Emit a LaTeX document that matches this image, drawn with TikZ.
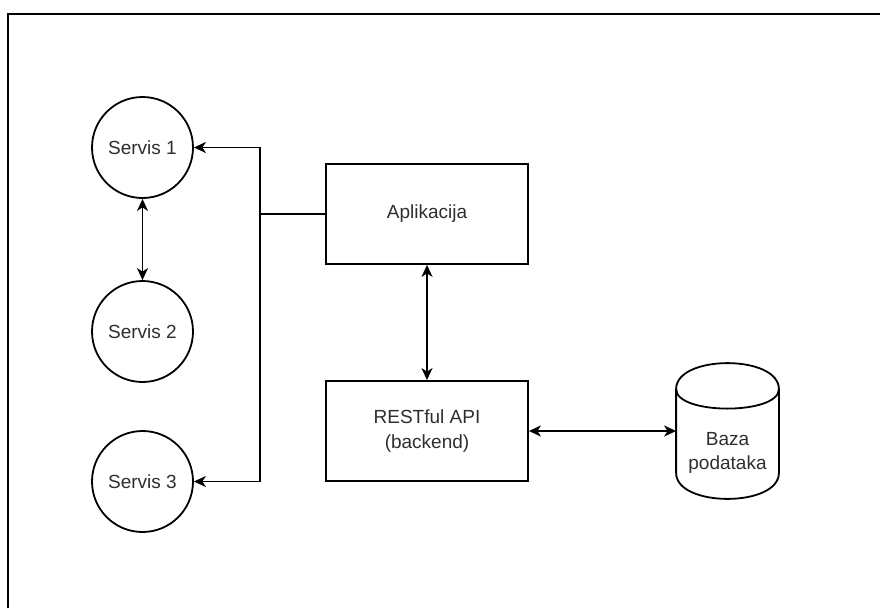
\documentclass[tikz,border=0pt]{standalone}
\usepackage{fontspec}
\setmainfont{Liberation Sans}
\usetikzlibrary{arrows.meta}
\begin{document}
\begin{tikzpicture}[x=1pt,y=-1pt,
  line width=1.8pt,
  every node/.append style={font=\fontsize{19}{24.5}\selectfont, text=black!82},
  svc/.style={circle, draw, minimum size=101pt, inner sep=0pt},
  box/.style={rectangle, draw, minimum width=202pt, minimum height=100pt, inner sep=0pt, align=center},
  dbbox/.style={rectangle, draw=none, minimum width=101pt, minimum height=134pt, inner sep=0pt},
  lbl/.style={inner sep=0pt, align=center},
  tipa/.tip={Stealth[length=12pt,width=11pt,inset=3.5pt]},
  arr/.style={-tipa},
  darr/.style={tipa-tipa}
]
\useasboundingbox (0,0) rectangle (880,608);
% frame
\draw[line width=2pt] (8,608) -- (8,14) -- (880,14);

% nodes
\node[svc] (s1) at (142.5,147.5) {Servis 1};
\node[svc] (s2) at (142.5,331.5) {Servis 2};
\node[svc] (s3) at (142.5,481.5) {Servis 3};
\node[box] (app) at (427,214) {Aplikacija};
\node[box] (api) at (427,431) {RESTful API\\(backend)};
\node[dbbox] (db) at (727.5,431) {};
\node[lbl] (dbl) at (727.5,453) {Baza\\podataka};

% cylinder outline
\draw ([yshift=-26pt]db.north west)
  .. controls ([yshift=8.67pt]db.north west) and ([yshift=8.67pt]db.north east) .. ([yshift=-26pt]db.north east)
  -- ([yshift=26pt]db.south east)
  .. controls ([yshift=-8.67pt]db.south east) and ([yshift=-8.67pt]db.south west) .. ([yshift=26pt]db.south west)
  -- cycle;
\draw ([yshift=-26pt]db.north west)
  .. controls ([yshift=-52pt]db.north west) and ([yshift=-52pt]db.north east) .. ([yshift=-26pt]db.north east);

% bus
\coordinate (bt) at (260,147.5);
\coordinate (bb) at (260,481.5);

% connectors
\draw[darr] (s1) -- (s2);
\draw[darr] (app) -- (api);
\draw[darr] (api.east) -- (db.west);
\draw (app.west) -- (app.west -| bt);
\draw[arr, line cap=rect] (bt) -- (s1.east);
\draw[arr] (bt) -- (bb) -- (s3.east);
\end{tikzpicture}
\end{document}
